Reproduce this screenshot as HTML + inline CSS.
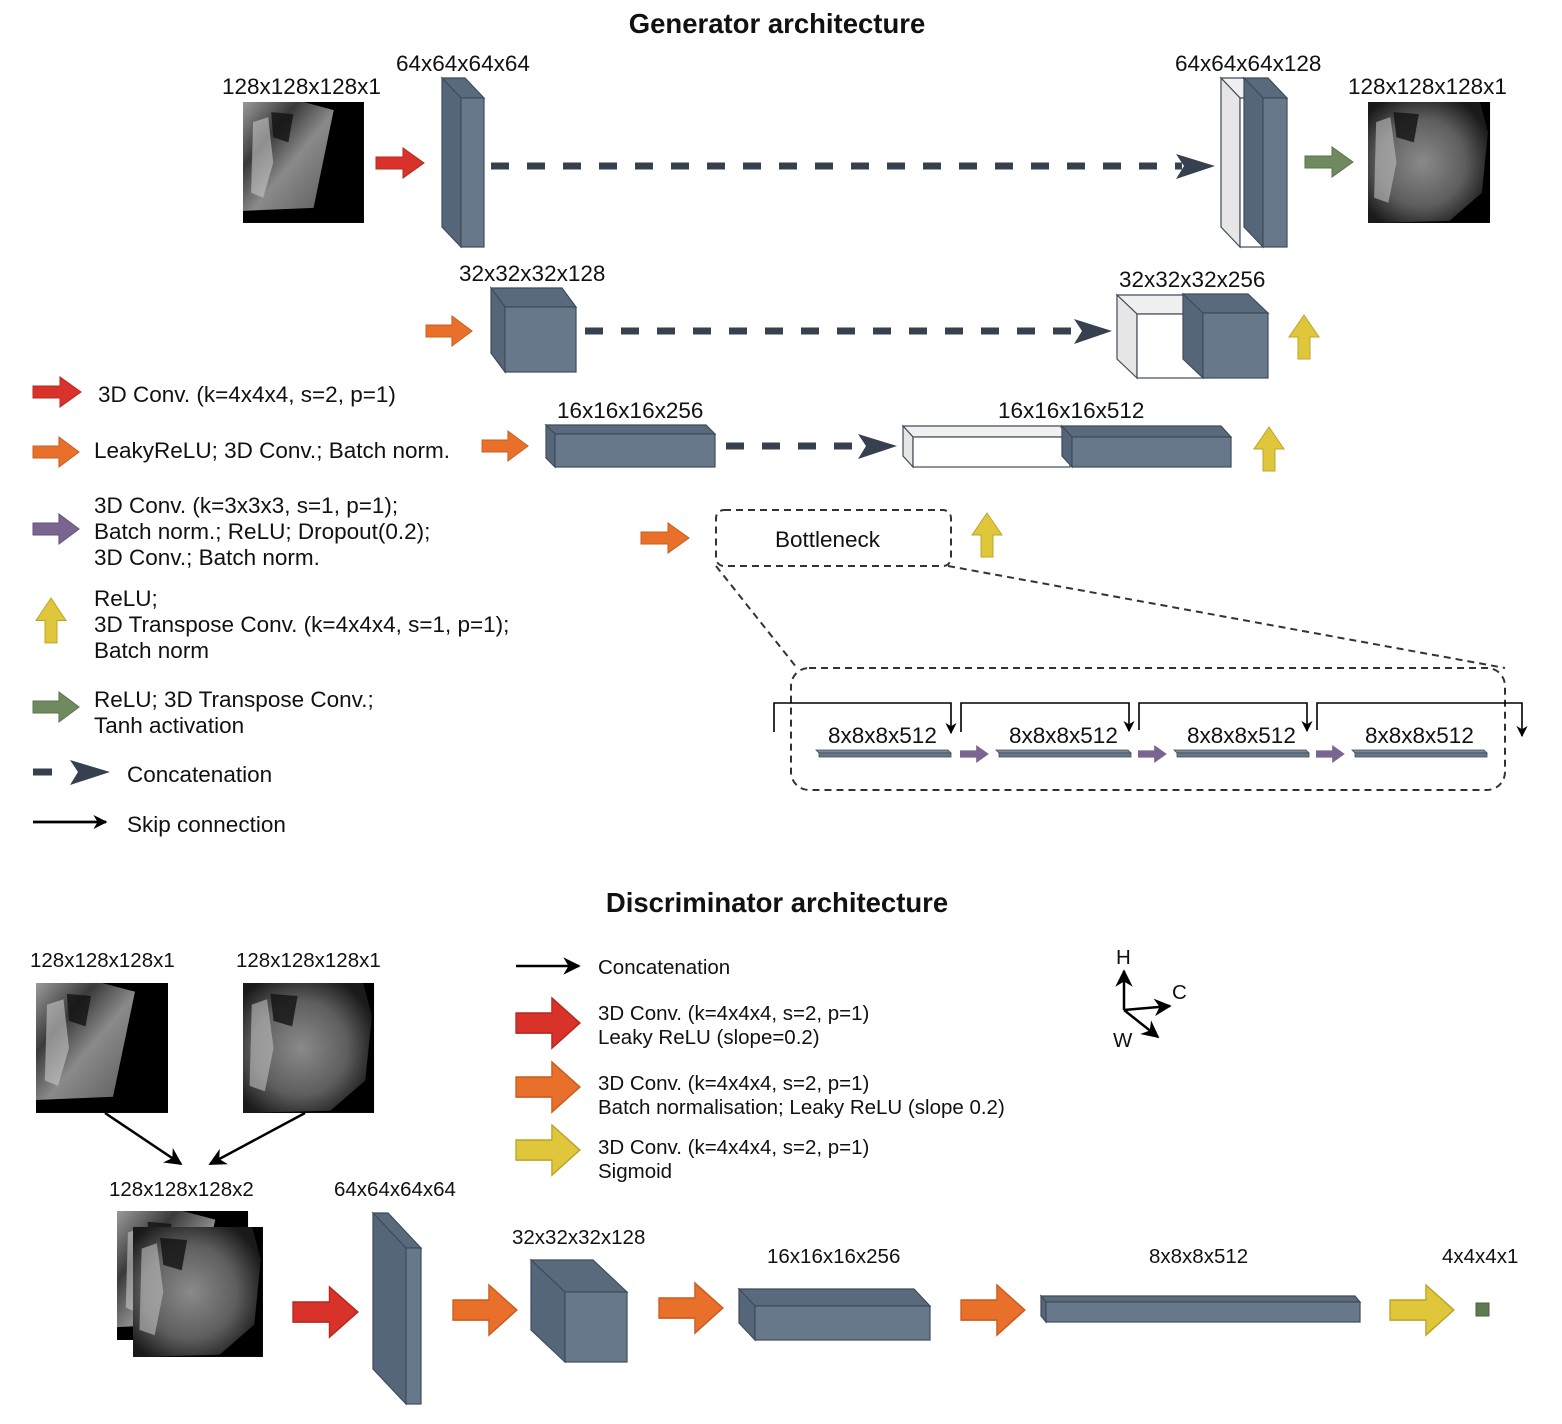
<!DOCTYPE html>
<html><head><meta charset="utf-8"><style>
html,body{margin:0;padding:0;background:#fff}
svg{display:block}
text{font-family:"Liberation Sans",Arial,sans-serif;fill:#111}
</style></head><body>
<svg width="1562" height="1424" viewBox="0 0 1562 1424" xmlns="http://www.w3.org/2000/svg">
<defs>
<path id="ra" d="M0,9 L27,9 L27,0 L48,15 L27,30 L27,21 L0,21 Z"/>
<path id="ua" d="M15,0 L30,22 L21,22 L21,44 L9,44 L9,22 L0,22 Z"/>
<linearGradient id="gIn" x1="0" y1="0" x2="1" y2="1">
<stop offset="0" stop-color="#9a9a9a"/><stop offset="0.3" stop-color="#3a3a3a"/><stop offset="0.55" stop-color="#8a8a8a"/><stop offset="1" stop-color="#5a5a5a"/></linearGradient>
<radialGradient id="gOut" cx="0.45" cy="0.5" r="0.6">
<stop offset="0" stop-color="#8a8a8a"/><stop offset="0.6" stop-color="#5e5e5e"/><stop offset="1" stop-color="#1a1a1a"/></radialGradient>
<g id="inImg">
<rect x="0" y="0" width="120" height="120" fill="#000"/>
<polygon points="0,0 60,0 90,8 70,105 0,108" fill="url(#gIn)"/>
<polygon points="10,20 25,15 30,60 20,95 8,90" fill="#c8c8c8" opacity="0.6"/>
<polygon points="28,10 50,12 45,40 30,35" fill="#111" opacity="0.8"/>
</g>
<g id="outImg">
<rect x="0" y="0" width="120" height="120" fill="#000"/>
<polygon points="0,0 110,0 118,30 112,90 80,118 0,120" fill="url(#gOut)"/>
<polygon points="8,20 22,15 28,60 20,100 6,95" fill="#c0c0c0" opacity="0.6"/>
<polygon points="25,10 50,12 45,40 28,35" fill="#111" opacity="0.8"/>
</g>
<marker id="mk" viewBox="0 0 10 10" refX="9" refY="5" markerWidth="7" markerHeight="7" orient="auto"><path d="M0,0 L10,5 L0,10 L3,5 Z" fill="#000"/></marker>
<marker id="mk2" viewBox="0 0 10 10" refX="9" refY="5" markerWidth="5" markerHeight="5" orient="auto"><path d="M0,0 L10,5 L0,10 L3,5 Z" fill="#000"/></marker>
</defs>

<text x="777" y="33" text-anchor="middle" font-size="27.5" font-weight="bold">Generator architecture</text>
<text x="777" y="912" text-anchor="middle" font-size="27.5" font-weight="bold">Discriminator architecture</text>

<g font-size="22.5">
<text x="222" y="94">128x128x128x1</text>
<text x="396" y="71">64x64x64x64</text>
<text x="1175" y="71">64x64x64x128</text>
<text x="1348" y="94">128x128x128x1</text>
<text x="459" y="281">32x32x32x128</text>
<text x="1119" y="287">32x32x32x256</text>
<text x="557" y="418">16x16x16x256</text>
<text x="998" y="418">16x16x16x512</text>
<text x="775" y="547">Bottleneck</text>
<text x="828" y="743">8x8x8x512</text>
<text x="1009" y="743">8x8x8x512</text>
<text x="1187" y="743">8x8x8x512</text>
<text x="1365" y="743">8x8x8x512</text>
<text x="98" y="402">3D Conv. (k=4x4x4, s=2, p=1)</text>
<text x="94" y="458">LeakyReLU; 3D Conv.; Batch norm.</text>
<text x="94" y="513">3D Conv. (k=3x3x3, s=1, p=1);</text>
<text x="94" y="539">Batch norm.; ReLU; Dropout(0.2);</text>
<text x="94" y="565">3D Conv.; Batch norm.</text>
<text x="94" y="606">ReLU;</text>
<text x="94" y="632">3D Transpose Conv. (k=4x4x4, s=1, p=1);</text>
<text x="94" y="658">Batch norm</text>
<text x="94" y="707">ReLU; 3D Transpose Conv.;</text>
<text x="94" y="733">Tanh activation</text>
<text x="127" y="782">Concatenation</text>
<text x="127" y="832">Skip connection</text>
</g>

<use href="#inImg" transform="translate(243,102) scale(1.008)"/>
<use href="#outImg" transform="translate(1368,102) scale(1.017,1.008)"/>

<g stroke="#3f4b5a" stroke-width="1.2">
<polygon points="442,78 465,78 484,98 461,98" fill="#5a6a7d"/>
<polygon points="442,78 461,98 461,247 442,227" fill="#56667a"/>
<rect x="461" y="98" width="23" height="149" fill="#68788b"/>

<polygon points="491,288 562,288 576,307 505,307" fill="#5a6a7d"/>
<polygon points="491,288 505,307 505,372 491,353" fill="#56667a"/>
<rect x="505" y="307" width="71" height="65" fill="#68788b"/>

<polygon points="546,425 706,425 715,434 555,434" fill="#5a6a7d"/>
<polygon points="546,425 555,434 555,467 546,458" fill="#56667a"/>
<rect x="555" y="434" width="160" height="33" fill="#68788b"/>

<polygon points="1221,78 1243,78 1262,98 1240,98" fill="#f0f0f0"/>
<polygon points="1221,78 1240,98 1240,247 1221,227" fill="#e6e6e6"/>
<rect x="1240" y="98" width="22" height="149" fill="#fff"/>
<polygon points="1244,78 1268,78 1287,98 1263,98" fill="#5a6a7d"/>
<polygon points="1244,78 1263,98 1263,247 1244,227" fill="#56667a"/>
<rect x="1263" y="98" width="24" height="149" fill="#68788b"/>

<polygon points="1117,295 1183,295 1203,314 1137,314" fill="#f0f0f0"/>
<polygon points="1117,295 1137,314 1137,378 1117,359" fill="#e6e6e6"/>
<rect x="1137" y="314" width="66" height="64" fill="#fff"/>
<polygon points="1183,294 1248,294 1268,313 1203,313" fill="#5a6a7d"/>
<polygon points="1183,294 1203,313 1203,378 1183,359" fill="#56667a"/>
<rect x="1203" y="313" width="65" height="65" fill="#68788b"/>

<polygon points="903,426 1060,426 1070,437 913,437" fill="#f0f0f0"/>
<polygon points="903,426 913,437 913,467 903,456" fill="#e6e6e6"/>
<rect x="913" y="437" width="157" height="30" fill="#fff"/>
<polygon points="1062,426 1221,426 1231,437 1072,437" fill="#5a6a7d"/>
<polygon points="1062,426 1072,437 1072,467 1062,456" fill="#56667a"/>
<rect x="1072" y="437" width="159" height="30" fill="#68788b"/>
</g>
<g stroke="#3f4b5a" stroke-width="0.8">
<polygon points="816,750 948,750 951,753 819,753" fill="#7a8898"/><rect x="819" y="753" width="132" height="4" fill="#68788b"/>
<polygon points="996,750 1128,750 1131,753 999,753" fill="#7a8898"/><rect x="999" y="753" width="132" height="4" fill="#68788b"/>
<polygon points="1174,750 1306,750 1309,753 1177,753" fill="#7a8898"/><rect x="1177" y="753" width="132" height="4" fill="#68788b"/>
<polygon points="1352,750 1484,750 1487,753 1355,753" fill="#7a8898"/><rect x="1355" y="753" width="132" height="4" fill="#68788b"/>
</g>

<g stroke="#36404e" stroke-width="7" stroke-dasharray="18,18" fill="none">
<line x1="491" y1="166" x2="1182" y2="166"/>
<line x1="585" y1="331" x2="1080" y2="331"/>
<line x1="726" y1="446" x2="860" y2="446"/>
<line x1="33" y1="772" x2="52" y2="772" stroke-dasharray="none"/>
</g>
<g fill="#36404e">
<path d="M1176,154 L1215,166 L1176,179 L1184,166 Z"/>
<path d="M1074,319 L1112,331 L1074,344 L1082,331 Z"/>
<path d="M858,434 L897,446 L858,459 L866,446 Z"/>
<path d="M70,760 L110,772 L70,785 L78,772 Z"/>
</g>

<g stroke="#333" stroke-width="2" stroke-dasharray="7,5" fill="none">
<rect x="716" y="510" width="235" height="56" rx="8"/>
<line x1="716" y1="566" x2="797" y2="668"/>
<line x1="948" y1="566" x2="1505" y2="668"/>
<rect x="791" y="668" width="714" height="122" rx="18"/>
</g>
<g stroke="#000" stroke-width="1.6" fill="none" marker-end="url(#mk)">
<polyline points="774,732 774,703 951,703 951,733"/>
<polyline points="961,732 961,703 1129,703 1129,731"/>
<polyline points="1139,730 1139,703 1307,703 1307,731"/>
<polyline points="1317,730 1317,703 1522,703 1522,736"/>
</g>
<line x1="33" y1="822" x2="106" y2="822" stroke="#000" stroke-width="2.8" marker-end="url(#mk2)"/>

<g stroke-width="1">
<use href="#ra" transform="translate(376,148)" fill="#d8322a" stroke="#b52a22"/>
<use href="#ra" transform="translate(1305,147)" fill="#6f8a5e" stroke="#5b7350"/>
<use href="#ra" transform="translate(426,316) scale(0.96,1)" fill="#e8702a" stroke="#c95e22"/>
<use href="#ra" transform="translate(482,431) scale(0.96,1)" fill="#e8702a" stroke="#c95e22"/>
<use href="#ra" transform="translate(641,523)" fill="#e8702a" stroke="#c95e22"/>
<use href="#ua" transform="translate(1289,315)" fill="#dfc63a" stroke="#bda52a"/>
<use href="#ua" transform="translate(1254,427)" fill="#dfc63a" stroke="#bda52a"/>
<use href="#ua" transform="translate(972,513)" fill="#dfc63a" stroke="#bda52a"/>
<use href="#ra" transform="translate(33,377)" fill="#d8322a" stroke="#b52a22"/>
<use href="#ra" transform="translate(33,437) scale(0.96,1)" fill="#e8702a" stroke="#c95e22"/>
<use href="#ra" transform="translate(33,514) scale(0.96,1)" fill="#7a6490" stroke="#65527a"/>
<use href="#ua" transform="translate(36,598) scale(1,1.02)" fill="#dfc63a" stroke="#bda52a"/>
<use href="#ra" transform="translate(33,692) scale(0.96,1)" fill="#6f8a5e" stroke="#5b7350"/>
<use href="#ra" transform="translate(960,745) scale(0.6)" fill="#7a6490"/>
<use href="#ra" transform="translate(1138,745) scale(0.6)" fill="#7a6490"/>
<use href="#ra" transform="translate(1316,745) scale(0.6)" fill="#7a6490"/>
</g>

<g font-size="20.5" style="fill:#222">
<text x="30" y="967">128x128x128x1</text>
<text x="236" y="967">128x128x128x1</text>
<text x="109" y="1196">128x128x128x2</text>
<text x="334" y="1196">64x64x64x64</text>
<text x="512" y="1244">32x32x32x128</text>
<text x="767" y="1263">16x16x16x256</text>
<text x="1149" y="1263">8x8x8x512</text>
<text x="1442" y="1263">4x4x4x1</text>
<text x="598" y="974">Concatenation</text>
<text x="598" y="1020">3D Conv. (k=4x4x4, s=2, p=1)</text>
<text x="598" y="1044">Leaky ReLU (slope=0.2)</text>
<text x="598" y="1090">3D Conv. (k=4x4x4, s=2, p=1)</text>
<text x="598" y="1114">Batch normalisation; Leaky ReLU (slope 0.2)</text>
<text x="598" y="1154">3D Conv. (k=4x4x4, s=2, p=1)</text>
<text x="598" y="1178">Sigmoid</text>
<text x="1116" y="964">H</text>
<text x="1172" y="999">C</text>
<text x="1113" y="1047">W</text>
</g>
<use href="#inImg" transform="translate(36,983) scale(1.1,1.083)"/>
<use href="#outImg" transform="translate(243,983) scale(1.092,1.083)"/>
<use href="#inImg" transform="translate(117,1211) scale(1.092,1.075)"/>
<use href="#outImg" transform="translate(133,1227) scale(1.083,1.083)"/>

<g stroke="#000" stroke-width="2.5" fill="none" marker-end="url(#mk)">
<line x1="105" y1="1113" x2="181" y2="1164"/>
<line x1="305" y1="1113" x2="210" y2="1164"/>
<line x1="516" y1="966" x2="579" y2="966"/>
<line x1="1124" y1="1010" x2="1124" y2="971"/>
<line x1="1124" y1="1010" x2="1170" y2="1006"/>
<line x1="1124" y1="1010" x2="1158" y2="1037"/>
</g>

<g stroke="#3f4b5a" stroke-width="1.2">
<polygon points="373,1213 388,1213 421,1248 406,1248" fill="#5a6a7d"/>
<polygon points="373,1213 406,1248 406,1404 373,1369" fill="#56667a"/>
<rect x="406" y="1248" width="15" height="156" fill="#68788b"/>
<polygon points="531,1260 593,1260 627,1292 565,1292" fill="#5a6a7d"/>
<polygon points="531,1260 565,1292 565,1362 531,1330" fill="#56667a"/>
<rect x="565" y="1292" width="62" height="70" fill="#68788b"/>
<polygon points="739,1289 914,1289 930,1306 755,1306" fill="#5a6a7d"/>
<polygon points="739,1289 755,1306 755,1340 739,1323" fill="#56667a"/>
<rect x="755" y="1306" width="175" height="34" fill="#68788b"/>
<polygon points="1041,1296 1355,1296 1360,1302 1046,1302" fill="#5a6a7d"/>
<polygon points="1041,1296 1046,1302 1046,1322 1041,1316" fill="#56667a"/>
<rect x="1046" y="1302" width="314" height="20" fill="#68788b"/>
</g>
<rect x="1476" y="1303" width="13" height="13" fill="#5f7a50" stroke="#4a6040"/>

<g stroke-width="1">
<use href="#ra" transform="translate(293,1287) scale(1.35,1.67)" fill="#d8322a" stroke="#b52a22"/>
<use href="#ra" transform="translate(453,1285) scale(1.33,1.67)" fill="#e8702a" stroke="#c95e22"/>
<use href="#ra" transform="translate(659,1283) scale(1.33,1.67)" fill="#e8702a" stroke="#c95e22"/>
<use href="#ra" transform="translate(961,1285) scale(1.33,1.67)" fill="#e8702a" stroke="#c95e22"/>
<use href="#ra" transform="translate(1390,1285) scale(1.33,1.67)" fill="#dfc63a" stroke="#bda52a"/>
<use href="#ra" transform="translate(516,998) scale(1.33,1.67)" fill="#d8322a" stroke="#b52a22"/>
<use href="#ra" transform="translate(516,1062) scale(1.33,1.67)" fill="#e8702a" stroke="#c95e22"/>
<use href="#ra" transform="translate(516,1125) scale(1.33,1.67)" fill="#dfc63a" stroke="#bda52a"/>
</g>
</svg>
</body></html>
